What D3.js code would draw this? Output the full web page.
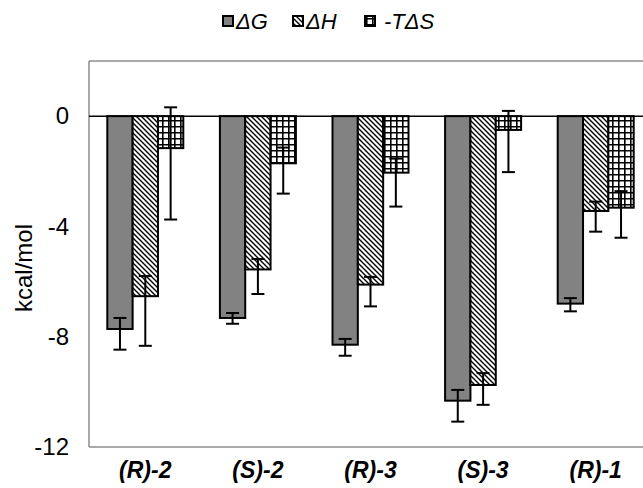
<!DOCTYPE html>
<html><head><meta charset="utf-8">
<script src="https://cdn.jsdelivr.net/npm/d3@7/dist/d3.min.js"></script>
<style>body{margin:0;background:#fff}svg{display:block}</style>
</head><body>
<svg id="c" width="643" height="488"></svg>
<script>
const categories = ["(R)-2", "(S)-2", "(R)-3", "(S)-3", "(R)-1"];
const series = ["ΔG", "ΔH", "-TΔS"];
const dG   = [-7.72, -7.32, -8.29, -10.32, -6.80];
const dH   = [-6.53, -5.56, -6.11, -9.75, -3.44];
const mTdS = [-1.16, -1.71, -2.05, -0.50, -3.32];
// error bar extents (upper, lower) in kcal/mol
const dGHi   = [-7.32, -7.14, -8.08, -9.93, -6.60];
const dGLo   = [-8.47, -7.53, -8.69, -11.08, -7.08];
const dHHi   = [-5.80, -5.18, -5.83, -9.32, -3.10];
const dHLo   = [-8.33, -6.45, -6.90, -10.47, -4.19];
const mTdSHi = [0.32, -1.14, -1.54, 0.19, -2.72];
const mTdSLo = [-3.75, -2.81, -3.28, -2.03, -4.41];
const yTicks = [0, -4, -8, -12];

const values = [dG, dH, mTdS];
const his = [dGHi, dHHi, mTdSHi];
const los = [dGLo, dHLo, mTdSLo];
const FONT = "Liberation Sans, Arial, sans-serif";

const svg = d3.select("#c");
const L = 89, T = 61, R = 652, B = 447;
const defs = svg.append("defs");
const hatch = defs.append("pattern").attr("id","hatch").attr("patternUnits","userSpaceOnUse")
  .attr("width",5).attr("height",5);
hatch.append("rect").attr("width",5).attr("height",5).attr("fill","#fff");
hatch.append("path").attr("d","M0,0L5,5M-1,4L1,6M4,-1L6,1").attr("stroke","#000").attr("stroke-width",1.4);
const grid = defs.append("pattern").attr("id","grid").attr("patternUnits","userSpaceOnUse")
  .attr("width",6).attr("height",6).attr("x",0).attr("y",0);
grid.append("rect").attr("width",6).attr("height",6).attr("fill","#fff");
grid.append("path").attr("d","M0.8,0V6M0,0.8H6").attr("stroke","#000").attr("stroke-width",1.6);
const fills = ["#828282", "url(#hatch)", "url(#grid)"];

const y = d3.scaleLinear().domain([-12, 2]).range([B, T]);
const x0 = d3.scaleBand().domain(categories).range([L, R]).paddingInner(0.325).paddingOuter(0.1625);
const x1 = d3.scaleBand().domain(series).range([0, x0.bandwidth()]);

// frame
svg.append("line").attr("x1",L).attr("x2",643).attr("y1",T).attr("y2",T).attr("stroke","#8c8c8c").attr("stroke-width",1.5);
svg.append("line").attr("x1",L).attr("x2",643).attr("y1",B).attr("y2",B).attr("stroke","#8c8c8c").attr("stroke-width",1.5);
svg.append("line").attr("x1",L).attr("x2",L).attr("y1",T).attr("y2",B).attr("stroke","#8c8c8c").attr("stroke-width",1.5);

// y axis labels
const yAxis = d3.axisLeft(y).tickValues(yTicks).tickSize(0).tickPadding(20).tickFormat(d => String(d));
const gy = svg.append("g").attr("transform",`translate(${L},0)`).call(yAxis);
gy.select(".domain").remove();
gy.selectAll("text").attr("font-family",FONT).attr("font-size",24).attr("fill","#000");

// bars
categories.forEach((c, i) => {
  series.forEach((s, j) => {
    const v = values[j][i];
    const bx = x0(c) + x1(s);
    svg.append("rect").attr("x", bx).attr("y", y(Math.max(0, v)))
      .attr("width", x1.bandwidth()).attr("height", Math.abs(y(v) - y(0)))
      .attr("fill", fills[j]).attr("stroke","#000").attr("stroke-width",2);
  });
});
// zero line
svg.append("line").attr("x1",L).attr("x2",643).attr("y1",y(0)).attr("y2",y(0)).attr("stroke","#000").attr("stroke-width",1.5);
// error bars
categories.forEach((c, i) => {
  series.forEach((s, j) => {
    const cx = x0(c) + x1(s) + x1.bandwidth()/2;
    const g = svg.append("g").attr("stroke","#000").attr("stroke-width",2);
    g.append("line").attr("x1",cx).attr("x2",cx).attr("y1",y(his[j][i])).attr("y2",y(los[j][i]));
    g.append("line").attr("x1",cx-6.5).attr("x2",cx+6.5).attr("y1",y(his[j][i])).attr("y2",y(his[j][i]));
    g.append("line").attr("x1",cx-6.5).attr("x2",cx+6.5).attr("y1",y(los[j][i])).attr("y2",y(los[j][i]));
  });
});

// x labels
categories.forEach(c => {
  svg.append("text").attr("x", x0(c) + x0.bandwidth()/2).attr("y", 478)
    .attr("text-anchor","middle").attr("font-family",FONT)
    .attr("font-size",23).attr("font-weight","bold").attr("font-style","italic").text(c);
});

// y title
svg.append("text").attr("transform","translate(32,268) rotate(-90)").attr("text-anchor","middle")
  .attr("font-family",FONT).attr("font-size",24).text("kcal/mol");

// legend
const legX = [223, 293, 365];
const legTxt = ["ΔG", "ΔH", "-TΔS"];
series.forEach((s, j) => {
  svg.append("rect").attr("x", legX[j]).attr("y", 16).attr("width", 10).attr("height", 10)
    .attr("fill", fills[j]).attr("stroke","#000").attr("stroke-width",2);
  svg.append("text").attr("x", legX[j] + 13 + (j==2?6:0)).attr("y", 29)
    .attr("font-family",FONT).attr("font-size",22)
    .attr("font-style","italic").text(legTxt[j]);
});
</script>
</body></html>
